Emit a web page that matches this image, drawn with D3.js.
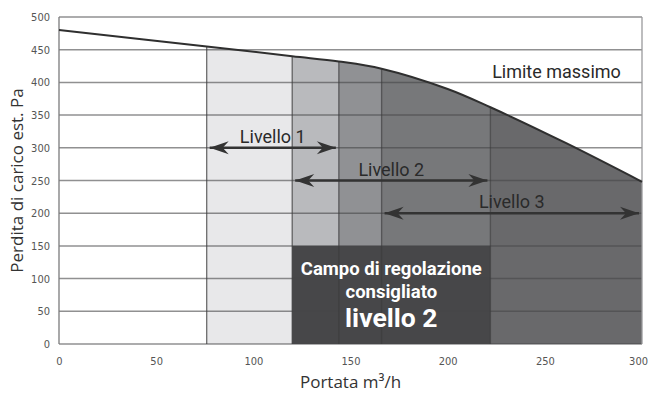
<!DOCTYPE html>
<html>
<head>
<meta charset="utf-8">
<script src="https://cdn.jsdelivr.net/npm/d3@7/dist/d3.min.js"></script>
<style>
  html, body { margin: 0; padding: 0; background: #fff; }
  svg { display: block; }
</style>
</head>
<body>
<svg id="chart" width="649" height="396"></svg>
<script>
// Fan curve: external static pressure (Pa) vs airflow (m³/h)
const curveFlow = [0, 76, 120, 144, 166, 200, 222, 261, 300];
const curvePressure = [480, 455, 440, 432, 421, 390, 362, 307, 248];

// Shaded speed bands under the curve
const bandFrom = [76, 120, 144, 166, 222];
const bandTo = [120, 144, 166, 222, 300];
const bandColors = ["#e8e8ea", "#b9babd", "#909194", "#77787a", "#69696b"];

// Recommended regulation range (level 2)
const recommendedFlow = [120, 222];
const recommendedMaxPressure = 150;
const recommendedLines = ["Campo di regolazione", "consigliato", "livello 2"];

// Level arrows
const levelNames = ["Livello 1", "Livello 2", "Livello 3"];
const levelFrom = [76, 120, 166];
const levelTo = [144, 222, 300];
const levelPressure = [300, 250, 200];

const xTicks = [0, 50, 100, 150, 200, 250, 300];
const yTicks = [0, 50, 100, 150, 200, 250, 300, 350, 400, 450, 500];

const curveLabel = "Limite massimo";
const xTitle = "Portata m³/h";
const yTitle = "Perdita di carico est. Pa";

const svg = d3.select("#chart");
const margin = { left: 59, right: 7, top: 17, bottom: 52 };
const W = 649, H = 396;

const x = d3.scaleLinear().domain([0, 300]).range([margin.left, W - margin.right]);
const y = d3.scaleLinear().domain([0, 500]).range([H - margin.bottom, margin.top]);

const curvePts = curveFlow.map((f, i) => [f, curvePressure[i]]);
const curveType = d3.curveCatmullRom.alpha(0.5);

const area = d3.area()
  .x(d => x(d[0]))
  .y0(y(0))
  .y1(d => y(d[1]))
  .curve(curveType);

const line = d3.line()
  .x(d => x(d[0]))
  .y(d => y(d[1]))
  .curve(curveType);

const defs = svg.append("defs");
defs.append("clipPath").attr("id", "under-curve")
  .append("path").attr("d", area(curvePts));

defs.append("marker")
  .attr("id", "head")
  .attr("viewBox", "-20 -8 22 16")
  .attr("refX", 0).attr("refY", 0)
  .attr("markerUnits", "userSpaceOnUse")
  .attr("markerWidth", 22).attr("markerHeight", 16)
  .attr("orient", "auto-start-reverse")
  .append("path")
  .attr("d", "M0,0 L-19,-6.5 L-13,0 L-19,6.5 Z")
  .attr("fill", "#333");

// Bands clipped to the area under the curve
const bands = svg.append("g").attr("clip-path", "url(#under-curve)");
bandFrom.forEach((f, i) => {
  bands.append("rect")
    .attr("x", x(f)).attr("y", y(500))
    .attr("width", x(bandTo[i]) - x(f))
    .attr("height", y(0) - y(500))
    .attr("fill", bandColors[i]);
});

// Recommended range box
svg.append("rect")
  .attr("x", x(recommendedFlow[0]))
  .attr("y", y(recommendedMaxPressure))
  .attr("width", x(recommendedFlow[1]) - x(recommendedFlow[0]))
  .attr("height", y(0) - y(recommendedMaxPressure))
  .attr("fill", "#474749");

// Horizontal grid
svg.append("g").selectAll("line").data(yTicks).join("line")
  .attr("x1", x(0)).attr("x2", x(300))
  .attr("y1", d => y(d)).attr("y2", d => y(d))
  .attr("stroke", "rgba(70,70,72,0.6)")
  .attr("stroke-width", 1.5);

// Layer for band boundaries, filled once the curve exists
const boundsLayer = svg.append("g");

// Plot frame: left and right edges
svg.append("line")
  .attr("x1", x(0)).attr("x2", x(0)).attr("y1", y(0)).attr("y2", y(500))
  .attr("stroke", "#7a7a7c").attr("stroke-width", 1.3);
svg.append("line")
  .attr("x1", x(300)).attr("x2", x(300)).attr("y1", y(0)).attr("y2", y(500))
  .attr("stroke", "#9a9a9c").attr("stroke-width", 1.3);

// Curve
const curvePath = svg.append("path")
  .attr("d", line(curvePts))
  .attr("fill", "none")
  .attr("stroke", "#2f2f2f")
  .attr("stroke-width", 2);

function yAt(f) {
  const p = curvePath.node();
  const target = x(f);
  let lo = 0, hi = p.getTotalLength(), pt = p.getPointAtLength(0);
  for (let k = 0; k < 40; k++) {
    const mid = (lo + hi) / 2;
    pt = p.getPointAtLength(mid);
    if (pt.x < target) lo = mid; else hi = mid;
  }
  return pt.y;
}

// Band boundaries, from the axis up to the curve
const bounds = Array.from(new Set(bandFrom.concat(bandTo))).filter(v => v < 300);
boundsLayer.selectAll("line").data(bounds).join("line")
  .attr("x1", d => x(d)).attr("x2", d => x(d))
  .attr("y1", y(0))
  .attr("y2", d => yAt(d))
  .attr("stroke", "rgba(60,60,62,0.75)")
  .attr("stroke-width", 1.3);

// Axes
const tickFont = "'Liberation Sans Narrow', 'DejaVu Sans Condensed', sans-serif";
const yAxis = svg.append("g")
  .attr("transform", `translate(${x(0) - 6},0)`)
  .call(d3.axisLeft(y).tickValues(yTicks).tickSize(0).tickFormat(d3.format("d")));
yAxis.select(".domain").remove();
yAxis.selectAll("text")
  .attr("font-family", tickFont).attr("font-size", 11).attr("fill", "#555");

const xAxis = svg.append("g")
  .attr("transform", `translate(0,${y(0) + 10})`)
  .call(d3.axisBottom(x).tickValues(xTicks).tickSize(0).tickFormat(d3.format("d")));
xAxis.select(".domain").remove();
xAxis.selectAll("text")
  .attr("font-family", tickFont).attr("font-size", 11).attr("fill", "#555");
// last label sits against the right edge
xAxis.selectAll("text").filter(d => d === 300)
  .attr("text-anchor", "end").attr("dx", "0.5em");

// Axis titles
const titleFont = "'Open Sans', 'DejaVu Sans', sans-serif";
svg.append("text")
  .attr("x", (x(0) + x(300)) / 2).attr("y", 388)
  .attr("text-anchor", "middle")
  .attr("font-family", titleFont).attr("font-size", 17).attr("fill", "#333")
  .text(xTitle);
svg.append("text")
  .attr("transform", `translate(23,${(y(0) + y(500)) / 2}) rotate(-90)`)
  .attr("text-anchor", "middle")
  .attr("font-family", titleFont).attr("font-size", 17).attr("fill", "#333")
  .text(yTitle);

// Level arrows and labels
const labelFont = "Roboto, 'DejaVu Sans', sans-serif";
levelNames.forEach((name, i) => {
  svg.append("line")
    .attr("x1", x(levelFrom[i]) + 3).attr("x2", x(levelTo[i]) - 3)
    .attr("y1", y(levelPressure[i])).attr("y2", y(levelPressure[i]))
    .attr("stroke", "#333").attr("stroke-width", 2.5)
    .attr("marker-start", "url(#head)")
    .attr("marker-end", "url(#head)");
  svg.append("text")
    .attr("x", x((levelFrom[i] + levelTo[i]) / 2))
    .attr("y", y(levelPressure[i]) - 5)
    .attr("text-anchor", "middle")
    .attr("font-family", labelFont).attr("font-size", 18).attr("fill", "#2a2a2a")
    .text(name);
});

svg.append("text")
  .attr("x", x(256)).attr("y", y(407))
  .attr("text-anchor", "middle")
  .attr("font-family", labelFont).attr("font-size", 18).attr("fill", "#2a2a2a")
  .text(curveLabel);

// Recommended range caption
const cx = x((recommendedFlow[0] + recommendedFlow[1]) / 2);
const caption = svg.append("g")
  .attr("font-family", labelFont).attr("font-weight", "bold")
  .attr("fill", "#fff").attr("text-anchor", "middle");
caption.append("text").attr("x", cx).attr("y", 275).attr("font-size", 18.5).text(recommendedLines[0]);
caption.append("text").attr("x", cx).attr("y", 298).attr("font-size", 18.5).text(recommendedLines[1]);
caption.append("text").attr("x", cx).attr("y", 327).attr("font-size", 26.5).text(recommendedLines[2]);
</script>
</body>
</html>
